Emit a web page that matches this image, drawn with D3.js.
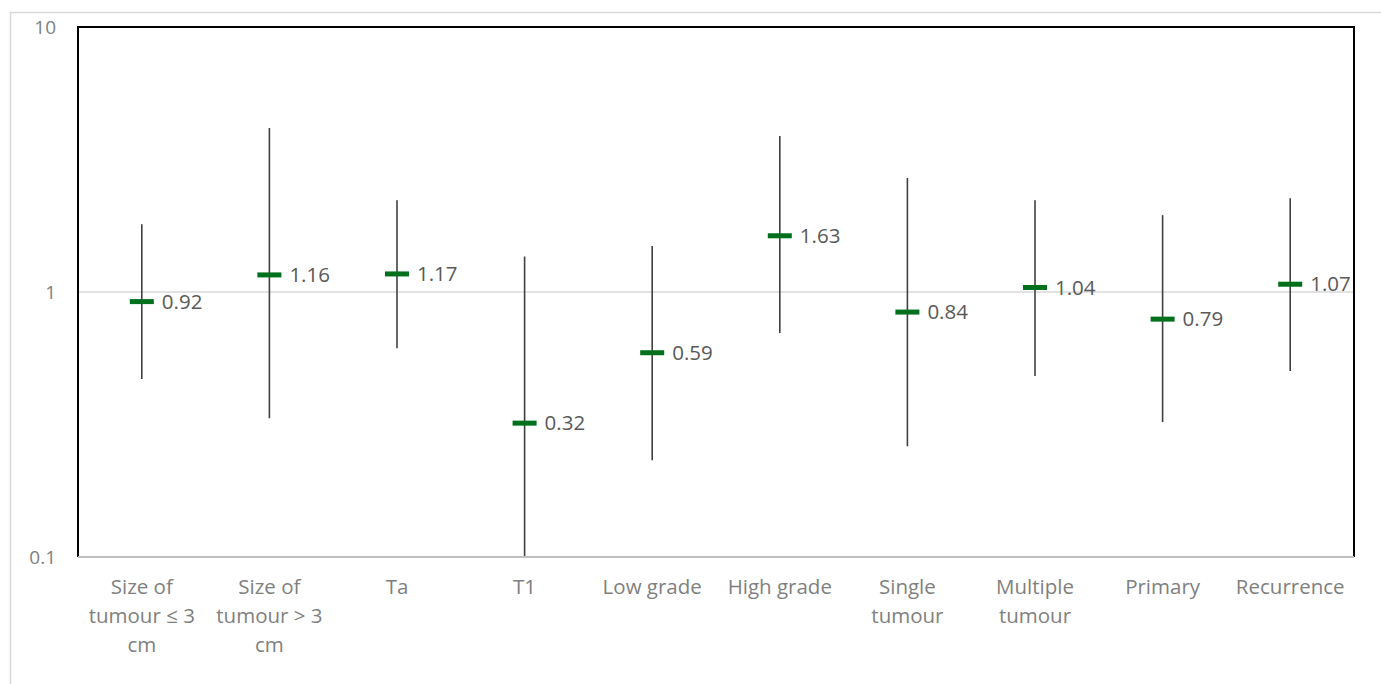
<!DOCTYPE html>
<html>
<head>
<meta charset="utf-8">
<script src="https://cdn.jsdelivr.net/npm/d3@7"></script>
<style>
  body { margin: 0; background: #fff; }
  text { font-family: "Open Sans", "Noto Sans", sans-serif; }
</style>
</head>
<body>
<div id="chart"></div>
<script>
// data
const categories = ["Size of\ntumour ≤ 3\ncm", "Size of\ntumour > 3\ncm", "Ta", "T1", "Low grade",
                    "High grade", "Single\ntumour", "Multiple\ntumour", "Primary", "Recurrence"];
const estimates = [0.92, 1.16, 1.17, 0.32, 0.59, 1.63, 0.84, 1.04, 0.79, 1.07];
const upper = [1.80, 4.16, 2.22, 1.36, 1.49, 3.88, 2.69, 2.22, 1.95, 2.26];
const lower = [0.47, 0.334, 0.614, 0.1, 0.232, 0.70, 0.262, 0.482, 0.323, 0.503];
const yTicks = [0.1, 1, 10];

const width = 1381, height = 684;
const margin = { top: 27, right: 27, bottom: 127, left: 78 };

const svg = d3.select("#chart")
    .append("svg")
    .attr("width", width)
    .attr("height", height);

// outer chart frame (light gray)
svg.append("rect")
    .attr("x", 10.5).attr("y", 12.5)
    .attr("width", width).attr("height", height)
    .attr("fill", "none")
    .attr("stroke", "#d9d9d9")
    .attr("stroke-width", 1.5);

const x = d3.scaleBand()
    .domain(d3.range(categories.length))
    .range([margin.left, width - margin.right]);

const y = d3.scaleLog()
    .domain([0.1, 10])
    .range([height - margin.bottom, margin.top]);

const x0 = margin.left, x1 = width - margin.right;
const yTop = y(10), yBot = y(0.1);

// gridline at 1
svg.append("line")
    .attr("x1", x0).attr("x2", x1)
    .attr("y1", y(1)).attr("y2", y(1))
    .attr("stroke", "#d9d9d9")
    .attr("stroke-width", 1.5);

// y tick labels
svg.selectAll(".ytick")
    .data(yTicks)
    .join("text")
    .attr("x", 56)
    .attr("y", d => y(d))
    .attr("dy", "0.35em")
    .attr("text-anchor", "end")
    .attr("fill", "#7f7f7f")
    .style("font-size", "19px")
    .text(d => d);

// error bars
const cx = i => x(i) + x.bandwidth() / 2;
svg.selectAll(".err")
    .data(estimates)
    .join("line")
    .attr("x1", (d, i) => cx(i)).attr("x2", (d, i) => cx(i))
    .attr("y1", (d, i) => y(Math.min(upper[i], 10)))
    .attr("y2", (d, i) => y(Math.max(lower[i], 0.1)))
    .attr("stroke", "#404040")
    .attr("stroke-width", 1.6);

// point estimate markers
svg.selectAll(".mark")
    .data(estimates)
    .join("rect")
    .attr("x", (d, i) => cx(i) - 12)
    .attr("y", d => y(d) - 2.5)
    .attr("width", 24)
    .attr("height", 5)
    .attr("fill", "#00701c");

// value labels
svg.selectAll(".val")
    .data(estimates)
    .join("text")
    .attr("x", (d, i) => cx(i) + 20)
    .attr("y", d => y(d))
    .attr("dy", "0.35em")
    .attr("fill", "#595959")
    .style("font-size", "20.5px")
    .text(d => d.toFixed(2));

// plot frame: black left/top/right, gray bottom axis
svg.append("path")
    .attr("d", `M${x0},${yBot} V${yTop} H${x1} V${yBot}`)
    .attr("fill", "none")
    .attr("stroke", "#000")
    .attr("stroke-width", 2);
svg.append("line")
    .attr("x1", x0).attr("x2", x1)
    .attr("y1", yBot).attr("y2", yBot)
    .attr("stroke", "#bfbfbf")
    .attr("stroke-width", 2);

// category labels
const cat = svg.selectAll(".cat")
    .data(categories)
    .join("text")
    .attr("text-anchor", "middle")
    .attr("fill", "#7f7f7f")
    .style("font-size", "20.5px");
cat.each(function (d, i) {
    d3.select(this).selectAll("tspan")
        .data(d.split("\n"))
        .join("tspan")
        .attr("x", cx(i))
        .attr("y", (l, j) => 594 + j * 29)
        .text(l => l);
});
</script>
</body>
</html>
